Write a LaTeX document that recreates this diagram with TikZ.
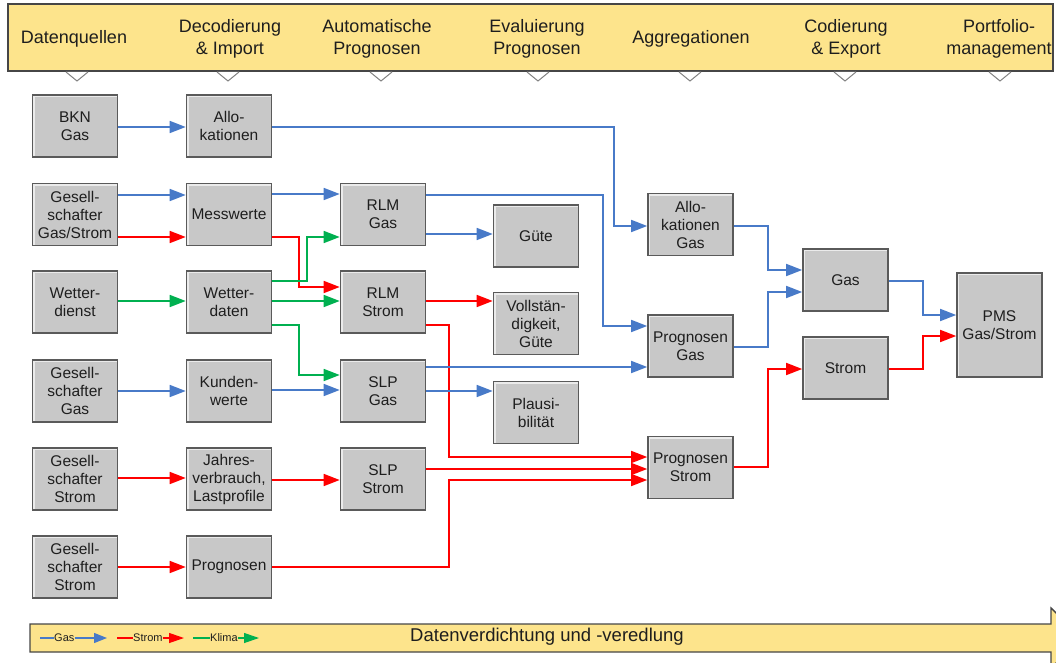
\documentclass[tikz,border=0pt]{standalone}
\usepackage{fontspec}
\setmainfont{Liberation Sans}
\usetikzlibrary{arrows.meta,calc}
\definecolor{hdr}{RGB}{253,228,140}
\definecolor{hdrline}{RGB}{70,70,70}
\definecolor{gasc}{RGB}{72,122,200}
\definecolor{stromc}{RGB}{255,0,0}
\definecolor{klimac}{RGB}{0,176,80}
\definecolor{boxfill}{RGB}{200,200,200}
\definecolor{boxline}{RGB}{90,90,90}
\definecolor{boxhi}{RGB}{235,235,235}
\definecolor{txt}{RGB}{30,30,30}
\definecolor{trig}{RGB}{130,130,130}
\begin{document}
\begin{tikzpicture}[x=1pt,y=-1pt,
  box/.style={draw=boxline, line width=1.6pt, fill=boxfill,
    minimum width=85pt, minimum height=62pt, inner sep=0pt, align=center,
    text=txt, font=\fontsize{15.5}{18}\selectfont,
    path picture={\draw[boxhi, line width=4pt]
      (path picture bounding box.south west) -- (path picture bounding box.north west)
      -- (path picture bounding box.north east);}},
  hdrtxt/.style={align=center, text=txt, inner sep=0pt, font=\fontsize{18}{22}\selectfont},
  conn/.style={line width=1.6pt, -{Triangle[length=16pt,width=12pt]}},
  gasln/.style={conn, draw=gasc},
  stromln/.style={conn, draw=stromc},
  klimaln/.style={conn, draw=klimac},
  legtxt/.style={inner sep=0pt, text=txt, font=\fontsize{11}{13}\selectfont},
  tri/.style={draw=trig, line width=1pt, fill=white}
]
\useasboundingbox (0,0) rectangle (1056,663);
\clip (0,0) rectangle (1056,663);

% header band
\draw[hdrline, line width=1.4pt, fill=hdr] (8,4) rectangle (1053,71);
\foreach \x in {77,228,381,538,690,845,1000}{
  \draw[tri] (\x-11,72) -- (\x,81) -- (\x+11,72);
}
\node[hdrtxt] (h1) at (74,39) {Datenquellen};
\node[hdrtxt] (h2) at (230,38.5) {Decodierung\\\& Import};
\node[hdrtxt] (h3) at (377,38.5) {Automatische\\Prognosen};
\node[hdrtxt] (h4) at (537,38.5) {Evaluierung\\Prognosen};
\node[hdrtxt] (h5) at (691,39) {Aggregationen};
\node[hdrtxt] (h6) at (846,38.5) {Codierung\\\& Export};
\node[hdrtxt] (h7) at (999,38.5) {Portfolio-\\management};

% column 1
\node[box] (bkn)  at (75,126)   {BKN\\Gas};
\node[box] (gsGS) at (75,214.5) {Gesell-\\schafter\\Gas/Strom};
\node[box] (wd)   at (75,302)   {Wetter-\\dienst};
\node[box] (gsG)  at (75,391)   {Gesell-\\schafter\\Gas};
\node[box] (gsS1) at (75,479)   {Gesell-\\schafter\\Strom};
\node[box] (gsS2) at (75,567)   {Gesell-\\schafter\\Strom};
% column 2
\node[box] (allo) at (229,126)   {Allo-\\kationen};
\node[box] (mess) at (229,214.5) {Messwerte};
\node[box] (wdat) at (229,302)   {Wetter-\\daten};
\node[box] (kund) at (229,391)   {Kunden-\\werte};
\node[box] (jahr) at (229,479)   {Jahres-\\verbrauch,\\Lastprofile};
\node[box] (prog) at (229,567)   {Prognosen};
% column 3
\node[box] (rlmg) at (383,214.5) {RLM\\Gas};
\node[box] (rlms) at (383,302)   {RLM\\Strom};
\node[box] (slpg) at (383,391)   {SLP\\Gas};
\node[box] (slps) at (383,479)   {SLP\\Strom};
% column 4
\node[box] (guete) at (536,236)   {Güte};
\node[box] (voll)  at (536,323.5) {Vollstän-\\digkeit,\\Güte};
\node[box] (plaus) at (536,412.5) {Plausi-\\bilität};
% column 5
\node[box] (allog)   at (690.5,224.5) {Allo-\\kationen\\Gas};
\node[box] (prgas)   at (690.5,346)   {Prognosen\\Gas};
\node[box] (prstrom) at (690.5,467.5) {Prognosen\\Strom};
% column 6
\node[box] (gasagg)   at (845.5,280) {Gas};
\node[box] (stromagg) at (845.5,368) {Strom};
\node[box, minimum height=104pt] (pms) at (999.5,325) {PMS\\Gas/Strom};

% connectors column 1 -> 2
\draw[gasln]   (bkn.east |- 0,127)  -- (allo.west |- 0,127);
\draw[gasln]   (gsGS.east |- 0,195) -- (mess.west |- 0,195);
\draw[stromln] (gsGS.east |- 0,237) -- (mess.west |- 0,237);
\draw[klimaln] (wd.east |- 0,301)   -- (wdat.west |- 0,301);
\draw[gasln]   (gsG.east |- 0,391)  -- (kund.west |- 0,391);
\draw[stromln] (gsS1.east |- 0,478) -- (jahr.west |- 0,478);
\draw[stromln] (gsS2.east |- 0,567) -- (prog.west |- 0,567);

% column 2 -> 3
\draw[gasln]   (allo.east |- 0,127) -- (614,127) |- (allog.west |- 0,226);
\draw[gasln]   (mess.east |- 0,194) -- (rlmg.west |- 0,194);
\draw[stromln] (mess.east |- 0,237) -- (299,237) |- (rlms.west |- 0,287);
\draw[klimaln] (wdat.east |- 0,281) -- (307,281) |- (rlmg.west |- 0,237);
\draw[klimaln] (wdat.east |- 0,301) -- (rlms.west |- 0,301);
\draw[klimaln] (wdat.east |- 0,325) -- (299,325) |- (slpg.west |- 0,375);
\draw[gasln]   (kund.east |- 0,390) -- (slpg.west |- 0,390);
\draw[stromln] (jahr.east |- 0,480) -- (slps.west |- 0,480);

% column 3 -> 4/5
\draw[gasln]   (rlmg.east |- 0,195) -- (603,195) |- (prgas.west |- 0,326);
\draw[gasln]   (rlmg.east |- 0,234) -- (guete.west |- 0,234);
\draw[stromln] (rlms.east |- 0,301) -- (voll.west |- 0,301);
\draw[stromln] (rlms.east |- 0,325) -- (449,325) |- (prstrom.west |- 0,457);
\draw[gasln]   (slpg.east |- 0,367) -- (prgas.west |- 0,367);
\draw[gasln]   (slpg.east |- 0,391) -- (plaus.west |- 0,391);
\draw[stromln] (slps.east |- 0,469) -- (prstrom.west |- 0,469);
\draw[stromln] (prog.east |- 0,567) -- (449,567) |- (prstrom.west |- 0,480);

% column 5 -> 6 -> PMS
\draw[gasln]   (allog.east |- 0,226)   -- (768,226) |- (gasagg.west |- 0,270);
\draw[gasln]   (prgas.east |- 0,347)   -- (768,347) |- (gasagg.west |- 0,292);
\draw[stromln] (prstrom.east |- 0,467) -- (768,467) |- (stromagg.west |- 0,369);
\draw[gasln]   (gasagg.east |- 0,281)  -- (923,281) |- (pms.west |- 0,315);
\draw[stromln] (stromagg.east |- 0,369) -- (923,369) |- (pms.west |- 0,336);

% bottom band arrow
\draw[hdrline, line width=1.4pt, fill=hdr]
  (30,624) -- (1051,624) -- (1051,608) -- (1082,638) -- (1051,668) -- (1051,652) -- (30,652) -- cycle;
\node[hdrtxt, font=\fontsize{18.5}{22}\selectfont] (band) at (547,637) {Datenverdichtung und -veredlung};

% legend
\coordinate (lg1) at (40,638);
\node[legtxt, anchor=west] (lgas) at (54,638) {Gas};
\coordinate (lg1e) at (107,638);
\draw[draw=gasc, line width=1.2pt] (lg1) -- (lgas.west);
\draw[gasln, line width=1.2pt, -{Triangle[length=13pt,width=10pt]}] (lgas.east) -- (lg1e);

\coordinate (lg2) at (117,638);
\node[legtxt, anchor=west] (lstrom) at (133,638) {Strom};
\coordinate (lg2e) at (184,638);
\draw[draw=stromc, line width=1.2pt] (lg2) -- (lstrom.west);
\draw[stromln, line width=1.2pt, -{Triangle[length=15pt,width=10pt]}] (lstrom.east) -- (lg2e);

\coordinate (lg3) at (193,638);
\node[legtxt, anchor=west] (lklima) at (210,638) {Klima};
\coordinate (lg3e) at (259,638);
\draw[draw=klimac, line width=1.2pt] (lg3) -- (lklima.west);
\draw[klimaln, line width=1.2pt, -{Triangle[length=15pt,width=10pt]}] (lklima.east) -- (lg3e);
\end{tikzpicture}
\end{document}
